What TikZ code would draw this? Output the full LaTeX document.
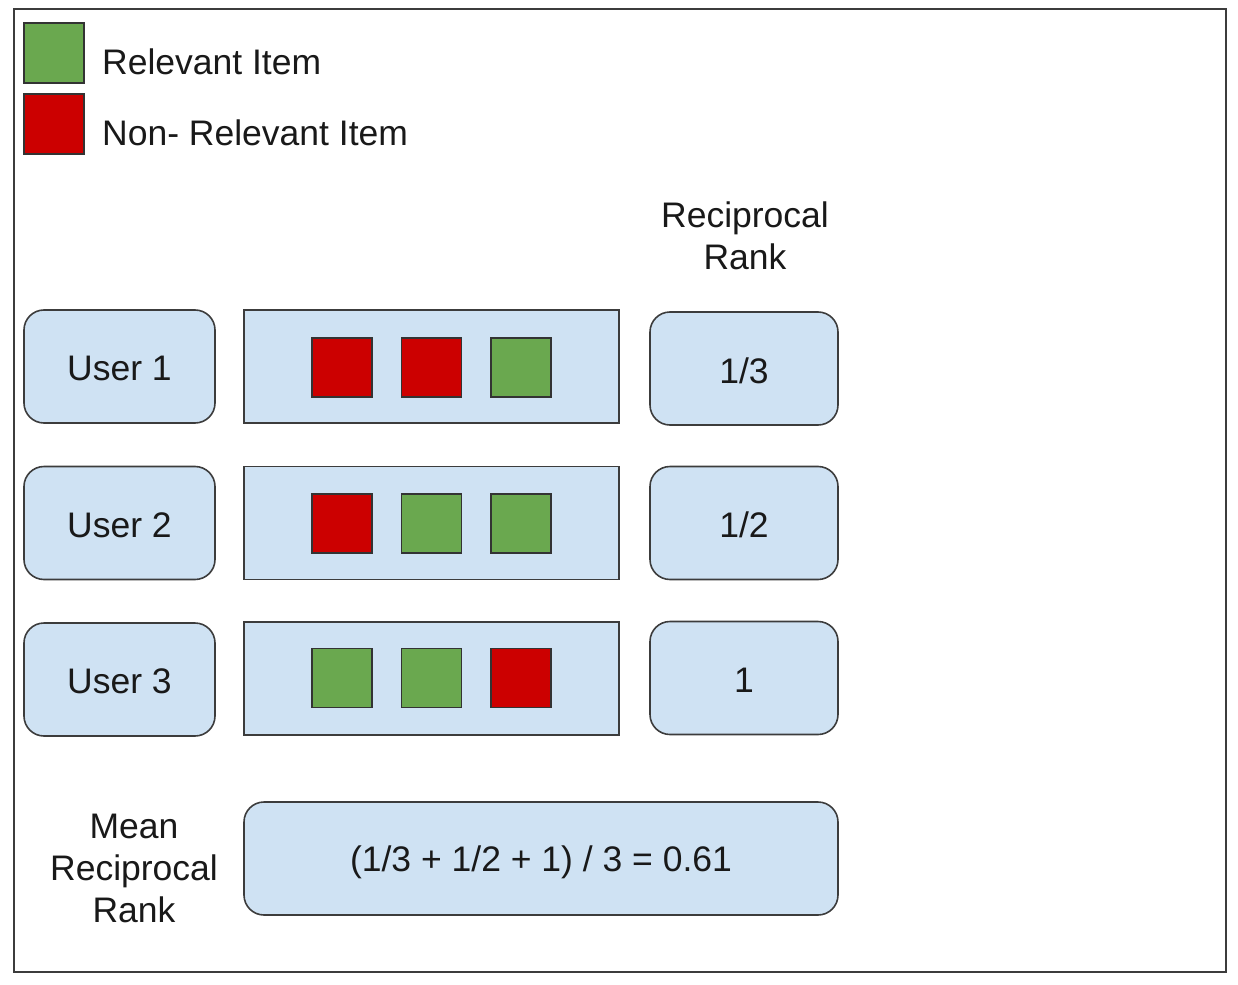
\documentclass[tikz,border=0pt]{standalone}
\usepackage{fontspec}
\setmainfont{Liberation Sans}
\definecolor{boxblue}{HTML}{CFE2F3}
\definecolor{relgreen}{HTML}{6AA84F}
\definecolor{nonred}{HTML}{CC0000}
\definecolor{edge}{HTML}{3C3C3C}
\begin{document}
\begin{tikzpicture}[x=1pt,y=-1pt,
  txt/.style={font=\fontsize{35.5}{42}\selectfont, text=black!90, inner sep=0pt},
  ubox/.style={draw=edge, line width=1.6pt, fill=boxblue, rounded corners=20pt, minimum width=191pt, minimum height=113pt, txt},
  rrbox/.style={draw=edge, line width=1.6pt, fill=boxblue, rounded corners=20pt, minimum width=188pt, minimum height=113pt, txt},
  listbox/.style={draw=edge, line width=1.6pt, fill=boxblue, minimum width=375pt, minimum height=113pt},
  sq/.style={draw=black!80, line width=1.2pt, minimum width=60pt, minimum height=59pt, inner sep=0pt},
  rel/.style={sq, fill=relgreen},
  non/.style={sq, fill=nonred}]
\useasboundingbox (0,0) rectangle (1238,984);
\draw[edge, line width=1.6pt] (14,9) rectangle (1226,972);
% legend
\node[rel, minimum height=60pt] (lg) at (54,53) {};
\node[non, minimum height=60pt] (lr) at (54,124) {};
\node[txt, anchor=west] (lgt) at (102,62) {Relevant Item};
\node[txt, anchor=west] (lrt) at (102,133) {Non- Relevant Item};
% header
\node[txt, align=center, font=\fontsize{35.5}{42}\selectfont] (hdr) at (745,236) {Reciprocal\\Rank};
% row 1
\node[ubox] (u1) at (119.5,366.5) {};
\node[txt] (u1t) at (119.5,368.5) {User 1};
\node[listbox] (l1) at (431.5,366.5) {};
\node[non] (s11) at (342,367.5) {};
\node[non] (s12) at (431.5,367.5) {};
\node[rel] (s13) at (521,367.5) {};
\node[rrbox] (r1) at (744,368.5) {};
\node[txt] (r1t) at (744,370.5) {1/3};
% row 2
\node[ubox] (u2) at (119.5,523) {};
\node[txt] (u2t) at (119.5,525) {User 2};
\node[listbox] (l2) at (431.5,523) {};
\node[non] (s21) at (342,523.5) {};
\node[rel] (s22) at (431.5,523.5) {};
\node[rel] (s23) at (521,523.5) {};
\node[rrbox] (r2) at (744,523) {};
\node[txt] (r2t) at (744,525) {1/2};
% row 3
\node[ubox] (u3) at (119.5,679.5) {};
\node[txt] (u3t) at (119.5,681.5) {User 3};
\node[listbox] (l3) at (431.5,678.5) {};
\node[rel] (s31) at (342,678) {};
\node[rel] (s32) at (431.5,678) {};
\node[non] (s33) at (521,678) {};
\node[rrbox] (r3) at (744,678) {};
\node[txt] (r3t) at (744,680) {1};
% mean
\node[txt, align=center, font=\fontsize{35.5}{42}\selectfont] (mrr) at (134,868) {Mean\\Reciprocal\\Rank};
\node[draw=edge, line width=1.6pt, fill=boxblue, rounded corners=20pt, minimum width=594pt, minimum height=113pt] (f) at (541,858.5) {};
\node[txt] (ft) at (541,862) {(1/3 + 1/2 + 1) / 3 = 0.61};
\end{tikzpicture}
\end{document}
